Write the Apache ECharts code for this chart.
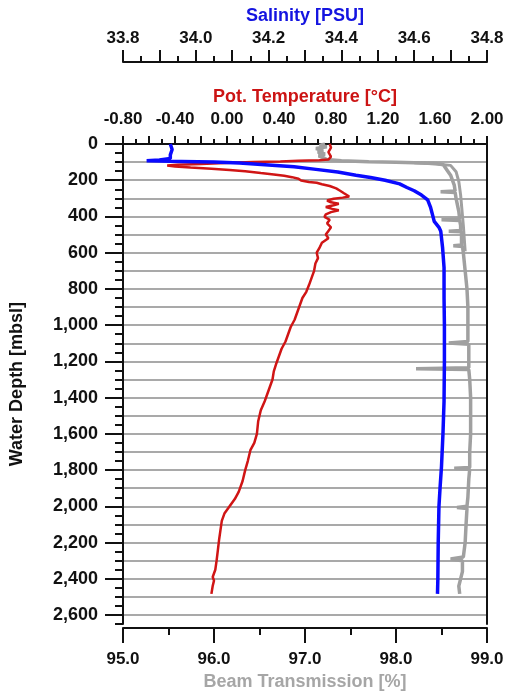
<!DOCTYPE html>
<html>
<head>
<meta charset="utf-8">
<script src="https://cdn.jsdelivr.net/npm/echarts@6/dist/echarts.min.js"></script>
<style>
  html, body { margin: 0; padding: 0; background: #fff; }
  #chart { width: 507px; height: 696px; }
</style>
</head>
<body>
<div id="chart"></div>
<script>
// [pot. temperature °C, depth m]
const potTemperature = [
  [0.79, 0], [0.80, 20], [0.78, 45], [0.80, 70], [0.78, 86], [0.71, 90], [0.55, 93], [0.41, 97],
  [0.20, 100], [0.03, 104], [-0.20, 110], [-0.38, 115], [-0.46, 119], [-0.40, 124], [-0.28, 130],
  [-0.12, 137], [0.02, 143], [0.14, 150], [0.26, 160], [0.36, 168], [0.44, 175], [0.50, 183],
  [0.55, 192], [0.57, 202], [0.63, 210], [0.69, 214], [0.73, 222], [0.79, 232], [0.84, 245],
  [0.87, 258], [0.90, 272], [0.94, 290], [0.89, 296], [0.82, 302], [0.77, 312], [0.80, 322],
  [0.86, 330], [0.82, 338], [0.76, 348], [0.81, 358], [0.86, 366], [0.80, 376], [0.76, 388],
  [0.75, 402], [0.79, 418], [0.77, 438], [0.80, 460], [0.78, 480], [0.76, 500], [0.78, 520],
  [0.73, 545], [0.71, 575], [0.69, 600], [0.70, 630], [0.68, 660], [0.67, 700], [0.65, 740],
  [0.63, 780], [0.61, 816], [0.58, 850], [0.56, 890], [0.54, 930], [0.52, 970], [0.49, 1010],
  [0.47, 1050], [0.45, 1090], [0.42, 1130], [0.40, 1170], [0.38, 1210], [0.36, 1255], [0.35, 1300],
  [0.33, 1340], [0.31, 1380], [0.29, 1420], [0.26, 1470], [0.24, 1530], [0.23, 1600], [0.21, 1650],
  [0.18, 1690], [0.16, 1750], [0.14, 1800], [0.12, 1860], [0.09, 1920], [0.06, 1960], [0.02, 2000],
  [-0.02, 2040], [-0.04, 2080], [-0.05, 2130], [-0.06, 2180], [-0.07, 2240], [-0.08, 2300],
  [-0.09, 2350], [-0.11, 2390], [-0.10, 2410], [-0.11, 2440], [-0.12, 2483]
];

// [salinity PSU, depth m]
const salinity = [
  [33.93, 0], [33.935, 30], [33.93, 60], [33.93, 80], [33.90, 88], [33.865, 92], [33.90, 94],
  [33.96, 96], [34.05, 100], [34.12, 105], [34.20, 116], [34.27, 126], [34.33, 140], [34.39, 155],
  [34.44, 172], [34.48, 185], [34.52, 200], [34.56, 220], [34.58, 240], [34.60, 258], [34.62, 282],
  [34.637, 309], [34.645, 350], [34.655, 427], [34.668, 460], [34.673, 482], [34.678, 573],
  [34.682, 682], [34.682, 850], [34.683, 1000], [34.683, 1200], [34.682, 1420], [34.679, 1600],
  [34.675, 1780], [34.671, 1900], [34.668, 2000], [34.666, 2200], [34.665, 2400], [34.664, 2483]
];

// [beam transmission %, depth m] - main profile
const beamTransmission = [
  [97.22, 0], [97.16, 8], [97.24, 15], [97.12, 25], [97.20, 35], [97.14, 45], [97.22, 55],
  [97.15, 65], [97.20, 75], [97.24, 86], [97.40, 93], [97.70, 98], [98.00, 101], [98.30, 105],
  [98.44, 108], [98.52, 115], [98.55, 136], [98.60, 172], [98.64, 227], [98.65, 260],
  [98.49, 264], [98.65, 268], [98.66, 300], [98.69, 372], [98.70, 414], [98.50, 418], [98.70, 422],
  [98.71, 450], [98.71, 477], [98.58, 481], [98.72, 485], [98.72, 558], [98.63, 562], [98.73, 566],
  [98.74, 600], [98.76, 700], [98.78, 800], [98.79, 900], [98.79, 1000], [98.79, 1090], [98.58, 1098],
  [98.80, 1106], [98.80, 1200], [98.80, 1235], [98.22, 1240], [98.80, 1245], [98.81, 1300],
  [98.82, 1400], [98.82, 1500], [98.82, 1600], [98.81, 1700], [98.81, 1785], [98.64, 1790],
  [98.81, 1795], [98.80, 1850], [98.79, 1950], [98.78, 2000], [98.67, 2006], [98.78, 2012],
  [98.77, 2100], [98.76, 2200], [98.74, 2280], [98.60, 2291], [98.73, 2300], [98.73, 2360],
  [98.71, 2400], [98.69, 2440], [98.70, 2483]
];

// [beam transmission %, depth m] - second trace in the upper 600 m
const beamTransmissionUpper = [
  [98.20, 104], [98.45, 110], [98.60, 118], [98.66, 153], [98.69, 207], [98.71, 281],
  [98.74, 450], [98.76, 592]
];

const depthLabels = [0, 200, 400, 600, 800, 1000, 1200, 1400, 1600, 1800, 2000, 2200, 2400, 2600];
const depthMax = 2650;

const minorDepthTicks = [];
for (let d = 0; d <= depthMax; d += 50) minorDepthTicks.push(d);

const FONT = "'Liberation Sans', Arial, sans-serif";
const tickLabel = { fontFamily: FONT, fontWeight: 'bold', fontSize: 17, color: '#111' };
const black = { lineStyle: { color: '#111', width: 2 } };

const chart = echarts.init(document.getElementById('chart'), null, { renderer: 'canvas' });

chart.setOption({
  animation: false,
  backgroundColor: '#fff',
  grid: { left: 117, right: 20, top: 144, bottom: 66 },
  xAxis: [
    {
      // pot. temperature
      type: 'value', position: 'top', min: -0.8, max: 2.0, interval: 0.2,
      name: 'Pot. Temperature [°C]', nameLocation: 'middle', nameGap: 34,
      nameTextStyle: { fontFamily: FONT, fontWeight: 'bold', fontSize: 18, color: '#cc1414' },
      axisLine: { show: true, onZero: false, ...black },
      axisTick: { show: true, length: 8, ...black },
      minorTick: { show: true, splitNumber: 2, length: 5, ...black },
      splitLine: { show: false },
      axisLabel: {
        ...tickLabel, margin: 16,
        formatter: v => (Math.round(v * 10) % 4 === 0 ? (Math.round(v * 100) / 100).toFixed(2) : '')
      }
    },
    {
      // salinity
      type: 'value', position: 'top', offset: 82, min: 33.8, max: 34.8, interval: 0.1,
      name: 'Salinity [PSU]', nameLocation: 'middle', nameGap: 35,
      nameTextStyle: { fontFamily: FONT, fontWeight: 'bold', fontSize: 18, color: '#1414e0' },
      axisLine: { show: true, onZero: false, ...black },
      axisTick: { show: true, length: 12, ...black },
      minorTick: { show: true, splitNumber: 2, length: 6, ...black },
      splitLine: { show: false },
      axisLabel: {
        ...tickLabel, margin: 15,
        formatter: v => (Math.round(v * 10) % 2 === 0 ? v.toFixed(1) : '')
      }
    },
    {
      // beam transmission
      type: 'value', position: 'bottom', offset: 4, min: 95, max: 99, interval: 1,
      name: 'Beam Transmission [%]', nameLocation: 'middle', nameGap: 42,
      nameTextStyle: { fontFamily: FONT, fontWeight: 'bold', fontSize: 18, color: '#a6a6a6' },
      axisLine: { show: true, onZero: false, ...black },
      axisTick: { show: true, length: 15, ...black },
      minorTick: { show: true, splitNumber: 2, length: 7, ...black },
      splitLine: { show: false },
      axisLabel: { ...tickLabel, margin: 23, formatter: v => v.toFixed(1) }
    }
  ],
  yAxis: [
    {
      // depth labels + long ticks
      type: 'value', inverse: true, position: 'left', min: 0, max: depthMax, interval: 200,
      name: 'Water Depth [mbsl]', nameLocation: 'middle', nameGap: 97,
      nameTextStyle: { fontFamily: FONT, fontWeight: 'bold', fontSize: 18, color: '#111' },
      axisLine: { show: true, onZero: false, ...black },
      axisTick: { show: true, length: 18, customValues: depthLabels, ...black },
      splitLine: { show: false },
      axisLabel: {
        ...tickLabel, fontSize: 18, margin: 25, customValues: depthLabels,
        formatter: v => v.toLocaleString('en-US')
      }
    },
    {
      // horizontal grid every 100 m
      type: 'value', inverse: true, position: 'left', min: 0, max: depthMax, interval: 100,
      axisLine: { show: false }, axisTick: { show: false }, axisLabel: { show: false },
      splitLine: { show: true, showMinLine: false, showMaxLine: false, lineStyle: { color: '#8c8c8c', width: 1.5 } }
    },
    {
      // short ticks every 50 m
      type: 'value', inverse: true, position: 'left', min: 0, max: depthMax,
      axisLine: { show: false }, axisLabel: { show: false }, splitLine: { show: false },
      axisTick: { show: true, length: 8, customValues: minorDepthTicks, ...black }
    },
    {
      // right frame
      type: 'value', inverse: true, position: 'right', min: 0, max: depthMax,
      axisLine: { show: true, onZero: false, ...black },
      axisTick: { show: false }, axisLabel: { show: false }, splitLine: { show: false }
    }
  ],
  series: [
    {
      name: 'Beam Transmission', type: 'line', xAxisIndex: 2, yAxisIndex: 0,
      data: beamTransmission, showSymbol: false, lineStyle: { color: '#a0a0a0', width: 3.5 }
    },
    {
      name: 'Beam Transmission (2)', type: 'line', xAxisIndex: 2, yAxisIndex: 0,
      data: beamTransmissionUpper, showSymbol: false, lineStyle: { color: '#a0a0a0', width: 3 }
    },
    {
      name: 'Pot. Temperature', type: 'line', xAxisIndex: 0, yAxisIndex: 0,
      data: potTemperature, showSymbol: false, lineStyle: { color: '#d01515', width: 2.5 }
    },
    {
      name: 'Salinity', type: 'line', xAxisIndex: 1, yAxisIndex: 0,
      data: salinity, showSymbol: false, lineStyle: { color: '#0a0aff', width: 3.5 }
    }
  ]
});
</script>
</body>
</html>
